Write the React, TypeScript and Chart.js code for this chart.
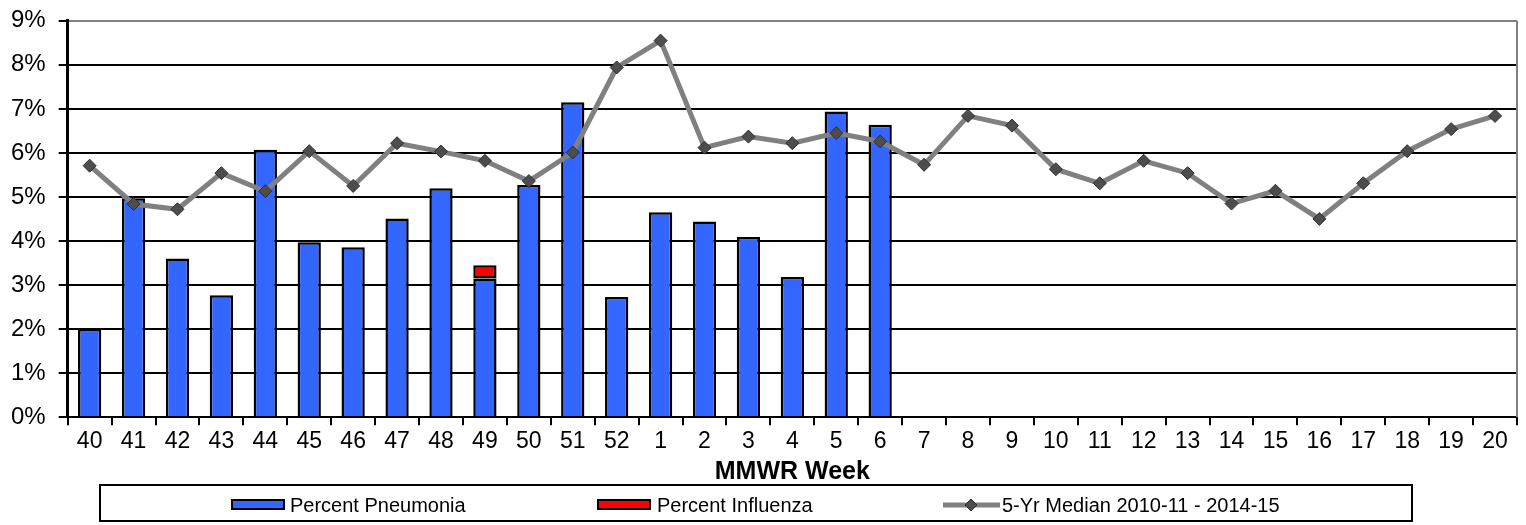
import React, { useEffect, useRef } from "react";
import { Chart, registerables } from "chart.js";

Chart.register(...registerables);

const weeks: string[] = [
  "40", "41", "42", "43", "44", "45", "46", "47", "48", "49", "50", "51", "52",
  "1", "2", "3", "4", "5", "6", "7", "8", "9", "10", "11", "12", "13", "14",
  "15", "16", "17", "18", "19", "20",
];

const pneumonia: (number | null)[] = [
  2.0, 4.97, 3.6, 2.77, 6.07, 3.97, 3.86, 4.51, 5.2, 3.15, 5.27, 7.15, 2.73,
  4.65, 4.44, 4.09, 3.18, 6.94, 6.64,
  null, null, null, null, null, null, null, null, null, null, null, null, null, null,
];

const influenza: (number | null)[] = [
  null, null, null, null, null, null, null, null, null, 0.3, null, null, null,
  null, null, null, null, null, null,
  null, null, null, null, null, null, null, null, null, null, null, null, null, null,
];

const median: number[] = [
  5.71, 4.84, 4.72, 5.54, 5.13, 6.04, 5.25, 6.22, 6.03, 5.82, 5.36, 6.01, 7.94,
  8.55, 6.12, 6.37, 6.22, 6.45, 6.26, 5.73, 6.84, 6.62, 5.63, 5.31, 5.82, 5.54,
  4.85, 5.14, 4.5, 5.31, 6.04, 6.54, 6.84,
];

const yTicks: number[] = [0, 1, 2, 3, 4, 5, 6, 7, 8, 9];

const FONT = "'Liberation Sans', Arial, Helvetica, sans-serif";

const frameAndLegend = {
  id: "frameAndLegend",
  beforeDatasetsDraw(chart: any) {
    const { ctx, chartArea } = chart;
    ctx.save();
    ctx.strokeStyle = "#808080";
    ctx.lineWidth = 2;
    ctx.beginPath();
    ctx.moveTo(chartArea.right, chartArea.top);
    ctx.lineTo(chartArea.right, chartArea.bottom);
    ctx.stroke();
    ctx.restore();
  },
  afterDraw(chart: any) {
    const { ctx } = chart;
    const ds = chart.data.datasets;
    const boxL = 100, boxT = 485, boxR = 1412, boxB = 521;
    ctx.save();
    ctx.strokeStyle = "#000";
    ctx.lineWidth = 2;
    ctx.strokeRect(boxL, boxT, boxR - boxL, boxB - boxT);
    const cy = 505;
    ctx.font = `20px ${FONT}`;
    ctx.fillStyle = "#000";
    ctx.textBaseline = "middle";
    ctx.textAlign = "left";

    const pn = ds.find((d: any) => d.id === "pn");
    const fl = ds.find((d: any) => d.id === "fl");
    const md = ds.find((d: any) => d.id === "md");

    ctx.fillStyle = pn.backgroundColor;
    ctx.fillRect(232, 500, 52, 9);
    ctx.strokeStyle = "#000";
    ctx.lineWidth = 2;
    ctx.strokeRect(232, 500, 52, 9);
    ctx.fillStyle = "#000";
    ctx.fillText(pn.label, 290, cy + 1);

    ctx.fillStyle = fl.backgroundColor;
    ctx.fillRect(598, 500, 52, 9);
    ctx.strokeRect(598, 500, 52, 9);
    ctx.fillStyle = "#000";
    ctx.fillText(fl.label, 657, cy + 1);

    ctx.strokeStyle = md.borderColor;
    ctx.lineWidth = 5;
    ctx.beginPath();
    ctx.moveTo(943, cy);
    ctx.lineTo(1000, cy);
    ctx.stroke();
    ctx.fillStyle = md.pointBackgroundColor;
    ctx.strokeStyle = md.pointBorderColor;
    ctx.lineWidth = 1;
    const r = 6;
    ctx.beginPath();
    ctx.moveTo(971 - r, cy);
    ctx.lineTo(971, cy - r);
    ctx.lineTo(971 + r, cy);
    ctx.lineTo(971, cy + r);
    ctx.closePath();
    ctx.fill();
    ctx.stroke();
    ctx.fillStyle = "#000";
    ctx.fillText(md.label, 1002, cy + 1);
    ctx.restore();
  },
};

export default function App() {
  const canvasRef = useRef<HTMLCanvasElement | null>(null);

  useEffect(() => {
    document.body.style.margin = "0";
    const canvas = canvasRef.current;
    if (!canvas) return;
    const chart = new Chart(canvas, {
      type: "bar",
      data: {
        labels: weeks,
        datasets: [
          {
            id: "md",
            type: "line",
            label: "5-Yr Median 2010-11 - 2014-15",
            data: median,
            borderColor: "#808080",
            backgroundColor: "#808080",
            borderWidth: 5,
            pointStyle: "rectRot",
            pointRadius: 6.5,
            pointBackgroundColor: "#4d4d4d",
            pointBorderColor: "#2e2e2e",
            pointBorderWidth: 1,
            tension: 0,
            order: 0,
            stack: "median",
          } as any,
          {
            id: "pn",
            type: "bar",
            label: "Percent Pneumonia",
            data: pneumonia,
            backgroundColor: "#3366ff",
            borderColor: "#000",
            borderWidth: 2.5,
            borderSkipped: "start",
            barPercentage: 0.53,
            categoryPercentage: 1,
            order: 1,
            stack: "pct",
          } as any,
          {
            id: "fl",
            type: "bar",
            label: "Percent Influenza",
            data: influenza,
            backgroundColor: "#ff0000",
            borderColor: "#000",
            borderWidth: 2.5,
            borderSkipped: false,
            barPercentage: 0.53,
            categoryPercentage: 1,
            order: 2,
            stack: "pct",
          } as any,
        ],
      },
      options: {
        animation: false,
        responsive: true,
        maintainAspectRatio: false,
        layout: { padding: { top: 0, right: 9, left: -2, bottom: 40 } },
        plugins: {
          legend: { display: false },
          tooltip: { enabled: false },
        },
        scales: {
          x: {
            stacked: true,
            offset: true,
            grid: {
              offset: true,
              drawOnChartArea: false,
              drawTicks: true,
              tickLength: 8,
              tickColor: "#000",
              tickWidth: 2,
              lineWidth: 2,
              color: "#000",
            },
            border: { color: "#000", width: 2 },
            ticks: {
              color: "#000",
              font: { family: FONT, size: 23 },
              padding: 3,
              maxRotation: 0,
              autoSkip: false,
            },
            title: {
              display: true,
              text: "MMWR Week",
              color: "#000",
              font: { family: FONT, size: 25, weight: "bold", lineHeight: 1.05 },
              padding: { top: 0, bottom: 0 },
            },
          },
          y: {
            stacked: true,
            min: 0,
            max: 9,
            afterBuildTicks: (scale: any) => {
              scale.ticks = yTicks.map((v) => ({ value: v }));
            },
            grid: {
              color: (c: any) => (c.tick && c.tick.value === 9 ? "#808080" : "#000"),
              lineWidth: 2,
              drawTicks: true,
              tickLength: 9,
              tickColor: "#000",
              tickWidth: 2,
            },
            border: { color: "#000", width: 3 },
            ticks: {
              color: "#000",
              font: { family: FONT, size: 24, lineHeight: 0.65 },
              padding: 13,
              callback: (v: any) => `${v}%`,
            },
          },
        },
      },
      plugins: [frameAndLegend],
    });
    return () => chart.destroy();
  }, []);

  return (
    <div style={{ position: "relative", width: "1526px", height: "525px", overflow: "hidden" }}>
      <canvas ref={canvasRef} />
    </div>
  );
}
